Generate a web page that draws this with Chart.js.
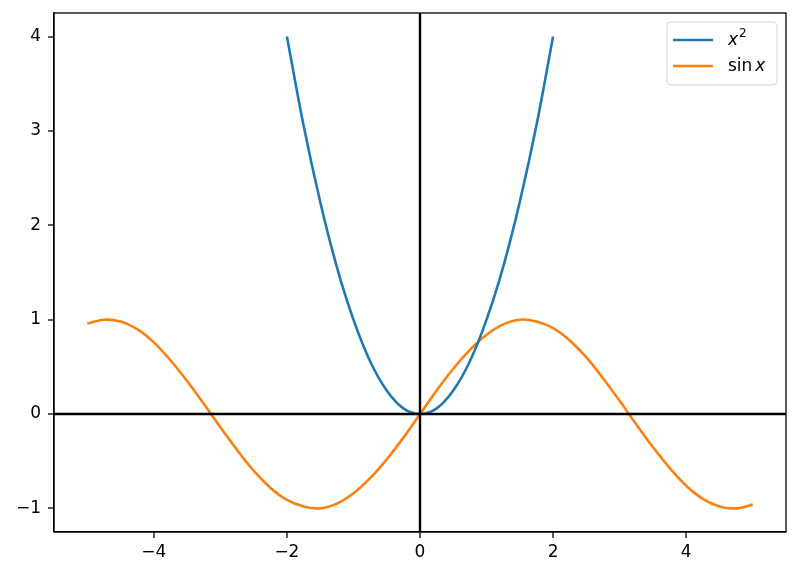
<!DOCTYPE html>
<html>
<head>
<meta charset="utf-8">
<script src="https://cdn.jsdelivr.net/npm/chart.js@4"></script>
<style>
  html, body { margin: 0; padding: 0; background: #fff; }
  #wrap { width: 800px; height: 577px; position: relative; }
</style>
</head>
<body>
<div id="wrap"><canvas id="chart"></canvas></div>
<script>
const FONT = '"DejaVu Sans", sans-serif';

// values
const squareX = [-2, -1.75, -1.5, -1.25, -1, -0.75, -0.5, -0.25, 0, 0.25, 0.5, 0.75, 1, 1.25, 1.5, 1.75, 2];
const squareY = [4, 3.06, 2.25, 1.56, 1, 0.56, 0.25, 0.06, 0, 0.06, 0.25, 0.56, 1, 1.56, 2.25, 3.06, 4];

const sineX = [-5, -4.75, -4.5, -4.25, -4, -3.75, -3.5, -3.25, -3, -2.75, -2.5, -2.25, -2, -1.75, -1.5, -1.25, -1, -0.75, -0.5, -0.25,
  0, 0.25, 0.5, 0.75, 1, 1.25, 1.5, 1.75, 2, 2.25, 2.5, 2.75, 3, 3.25, 3.5, 3.75, 4, 4.25, 4.5, 4.75, 5];
const sineY = [0.96, 1.0, 0.98, 0.9, 0.76, 0.57, 0.35, 0.11, -0.14, -0.38, -0.6, -0.78, -0.91, -0.98, -1.0, -0.95, -0.84, -0.68, -0.48, -0.25,
  0, 0.25, 0.48, 0.68, 0.84, 0.95, 1.0, 0.98, 0.91, 0.78, 0.6, 0.38, 0.14, -0.11, -0.35, -0.57, -0.76, -0.9, -0.98, -1.0, -0.96];

const seriesLabels = ['x²', 'sin x'];
const xTicks = [-4, -2, 0, 2, 4];
const yTicks = [-1, 0, 1, 2, 3, 4];

const pts = (xs, ys) => xs.map((x, i) => ({ x, y: ys[i] }));
const fmt = v => (v < 0 ? '\u2212' + Math.abs(v) : String(v));

// black lines through the origin, drawn over the curves
const originLines = {
  id: 'originLines',
  afterDatasetsDraw(chart) {
    const { ctx, chartArea: a, scales } = chart;
    const px = scales.x.getPixelForValue(0);
    const py = scales.y.getPixelForValue(0);
    ctx.save();
    ctx.strokeStyle = '#000';
    ctx.lineWidth = 2.4;
    ctx.beginPath();
    ctx.moveTo(a.left, py); ctx.lineTo(a.right, py);
    ctx.moveTo(px, a.top); ctx.lineTo(px, a.bottom);
    ctx.stroke();
    ctx.restore();
  }
};

// frame round the plot area
const frame = {
  id: 'frame',
  afterDraw(chart) {
    const { ctx, chartArea: a } = chart;
    ctx.save();
    ctx.strokeStyle = '#000';
    ctx.lineWidth = 1.3;
    ctx.strokeRect(a.left, a.top, a.right - a.left, a.bottom - a.top);
    ctx.restore();
  }
};

// matplotlib-like legend inside the top right corner
const mathLegend = {
  id: 'mathLegend',
  afterDraw(chart) {
    const { ctx, chartArea: a } = chart;
    const x0 = a.right - 119, y0 = a.top + 9, w = 110, h = 63;
    ctx.save();
    ctx.beginPath();
    ctx.roundRect(x0, y0, w, h, 4);
    ctx.fillStyle = 'rgba(255,255,255,0.8)';
    ctx.fill();
    ctx.strokeStyle = '#d6d6d6';
    ctx.lineWidth = 1;
    ctx.stroke();
    chart.data.datasets.forEach((ds, i) => {
      const ly = y0 + 18 + i * 26;
      ctx.strokeStyle = ds.borderColor;
      ctx.lineWidth = 2.6;
      ctx.beginPath();
      ctx.moveTo(x0 + 6, ly);
      ctx.lineTo(x0 + 46, ly);
      ctx.stroke();
      let tx = x0 + 61;
      ctx.fillStyle = '#000';
      ctx.textBaseline = 'middle';
      for (const ch of ds.label) {
        if (ch === 'x') {
          ctx.font = 'italic 17px ' + FONT;
          ctx.fillText(ch, tx, ly + 1);
          tx += ctx.measureText(ch).width;
        } else if (ch === '²') {
          ctx.font = '12px ' + FONT;
          ctx.fillText('2', tx + 1, ly - 6);
          tx += ctx.measureText('2').width + 1;
        } else if (ch === ' ') {
          tx += 3;
        } else {
          ctx.font = '17px ' + FONT;
          ctx.fillText(ch, tx, ly + 1);
          tx += ctx.measureText(ch).width;
        }
      }
    });
    ctx.restore();
  }
};

new Chart(document.getElementById('chart'), {
  type: 'scatter',
  data: {
    datasets: [
      { label: seriesLabels[0], data: pts(squareX, squareY), showLine: true, borderColor: '#1f77b4', borderWidth: 2.6, pointRadius: 0, tension: 0.35 },
      { label: seriesLabels[1], data: pts(sineX, sineY), showLine: true, borderColor: '#ff7f0e', borderWidth: 2.6, pointRadius: 0, tension: 0.35 },
    ]
  },
  options: {
    responsive: true, maintainAspectRatio: false,
    animation: false,
    layout: { padding: { left: 0, top: 13, right: 14, bottom: 0 } },
    plugins: { legend: { display: false }, tooltip: { enabled: false } },
    scales: {
      x: {
        type: 'linear', min: -5.5, max: 5.5,
        afterBuildTicks: s => { s.ticks = xTicks.map(v => ({ value: v })); },
        afterFit: s => { s.height = 45; s.paddingLeft = 0; s.paddingRight = 0; },
        border: { display: true, color: '#000', width: 1.3 },
        grid: {
          color: 'rgba(0,0,0,0)', lineWidth: 0,
          drawTicks: true, tickLength: 6, tickColor: '#000', tickWidth: 1.3,
        },
        ticks: { callback: fmt, color: '#000', font: { family: FONT, size: 17 }, padding: 4, maxRotation: 0 },
      },
      y: {
        type: 'linear', min: -1.25, max: 4.25,
        afterBuildTicks: s => { s.ticks = yTicks.map(v => ({ value: v })); },
        afterFit: s => { s.width = 54; s.paddingTop = 0; s.paddingBottom = 0; },
        border: { display: true, color: '#000', width: 1.3 },
        grid: {
          color: 'rgba(0,0,0,0)', lineWidth: 0,
          drawTicks: true, tickLength: 6, tickColor: '#000', tickWidth: 1.3,
        },
        ticks: { callback: fmt, color: '#000', font: { family: FONT, size: 17 }, padding: 7 },
      },
    }
  },
  plugins: [originLines, frame, mathLegend]
});
</script>
</body>
</html>
